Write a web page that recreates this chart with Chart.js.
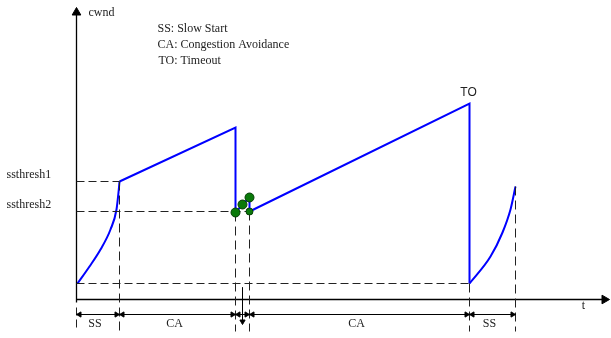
<!DOCTYPE html>
<html>
<head>
<meta charset="utf-8">
<script src="https://cdn.jsdelivr.net/npm/chart.js@4"></script>
<style>
html,body{margin:0;padding:0;background:#fff;}
#wrap{width:611px;height:338px;}
</style>
</head>
<body>
<div id="wrap"><canvas id="c" width="611" height="338"></canvas></div>
<script>
// ---- data (t = time, cwnd = congestion window; arbitrary units) ----
const ssPhase1 = [[1,16],[13,33],[24,50],[34,70],[40,90],[42,107],[43,118]];
const caPhase1 = [[43,118],[159,172],[159,87]];
const recovery = [[159,87],[166,95],[173,102],[173,88]];
const caPhase2 = [[173,88],[393,196],[393,16]];
const ssPhase2 = [[393,16],[414,43],[426,67],[434,90],[439,113]];
const recoveryDots = [[159,87],[166,95],[173,102]];
const recoveryEnd = [[173,88]];

const thresholdLabels = ['ssthresh1','ssthresh2'];
const thresholdValues = [118, 88];
const baselineCwnd = 16;
const phaseBounds = [0, 43, 159, 173, 393, 439];
const phaseLabels = ['SS','CA','','CA','SS'];
const boundTops = [null, 118, 87, 88, 16, 113];
const legendNotes = ['SS: Slow Start','CA: Congestion Avoidance','TO: Timeout'];
const timeoutLabel = 'TO';
const timeoutPoint = [393,196];
const dupAckT = 166;
const axisLabelY = 'cwnd';
const axisLabelX = 't';

// ---- build datasets ----
const P = a => a.map(([x,y]) => ({x, y}));
const BLUE = '#0000ff';
const GRAY = '#222';
const dimY = -15, dashBottom = -32;

const ds = [];
function line(pts, color, width, dash, extra) {
  ds.push(Object.assign({type:'line', data:P(pts), borderColor:color, borderWidth:width,
    borderDash:dash||[], pointRadius:0, fill:false, tension:0, clip:false, order:1}, extra||{}));
}
function marks(pts, style, r, rot, color, extra) {
  ds.push(Object.assign({type:'line', data:P(pts), showLine:false, pointStyle:style, pointRadius:r,
    pointRotation:rot, pointBackgroundColor:color, pointBorderColor:color, pointBorderWidth:1,
    clip:false, order:0}, extra||{}));
}

// dashed guides
line([[0,thresholdValues[0]],[phaseBounds[1],thresholdValues[0]]], GRAY, 1, [8,4]);
line([[0,thresholdValues[1]],[phaseBounds[3],thresholdValues[1]]], GRAY, 1, [8,4]);
line([[0,baselineCwnd],[phaseBounds[4],baselineCwnd]], GRAY, 1, [8,4]);
line([[0,-8],[0,dashBottom]], GRAY, 1, [8,4]);
for (let i = 1; i < phaseBounds.length; i++) {
  line([[phaseBounds[i], boundTops[i]],[phaseBounds[i], dashBottom]], GRAY, 1, [9,5]);
}

// axes
line([[0,-3],[0,286]], '#000', 1.3);
line([[0,0],[526,0]], '#000', 1.3);
marks([[0,287]], 'triangle', 5, 0, '#000');
marks([[528,0]], 'triangle', 5, 90, '#000');

// dimension lines
for (let i = 0; i < phaseBounds.length - 1; i++) {
  const a = phaseBounds[i], b = phaseBounds[i+1];
  line([[a,dimY],[b,dimY]], '#000', 1);
  marks([[a+3,dimY]], 'triangle', 3, 270, '#000');
  marks([[b-3,dimY]], 'triangle', 3, 90, '#000');
}
// duplicate-ack arrow
line([[dupAckT,12],[dupAckT,-22]], '#000', 1);
marks([[dupAckT,-22]], 'triangle', 3, 180, '#000');

// cwnd trace
line(ssPhase1, BLUE, 2, [], {cubicInterpolationMode:'monotone'});
line(caPhase1, BLUE, 2);
line(recovery, BLUE, 2);
line(caPhase2, BLUE, 2);
line(ssPhase2, BLUE, 2, [], {cubicInterpolationMode:'monotone'});
marks(recoveryDots, 'circle', 4.5, 0, '#0a7a0a', {pointBorderColor:'#053d05', pointBorderWidth:1});
marks(recoveryEnd, 'circle', 3.5, 0, '#0a7a0a', {pointBorderColor:'#053d05', pointBorderWidth:1});

// ---- text plugin ----
const textPlugin = {
  id:'texts',
  afterDatasetsDraw(chart) {
    const ctx = chart.ctx, xs = chart.scales.x, ys = chart.scales.y;
    const X = v => xs.getPixelForValue(v), Y = v => ys.getPixelForValue(v);
    ctx.save();
    ctx.fillStyle = '#222';
    ctx.textBaseline = 'middle';
    const serif = '12px "Liberation Serif", "Times New Roman", serif';
    ctx.font = serif;
    ctx.textAlign = 'left';
    ctx.fillText(axisLabelY, X(12), Y(287));
    legendNotes.forEach((s, i) => ctx.fillText(s, X(81) + (i === 2 ? 1 : 0), Y(271 - 16*i)));
    thresholdLabels.forEach((s, i) => ctx.fillText(s, X(-70), Y(thresholdValues[i] + 7)));
    ctx.textAlign = 'center';
    ctx.fillText(axisLabelX, X(507), Y(-6));
    for (let i = 0; i < phaseLabels.length; i++) {
      if (!phaseLabels[i]) continue;
      const m = (phaseBounds[i] + phaseBounds[i+1]) / 2 - 3;
      ctx.fillText(phaseLabels[i], X(m), Y(-24));
    }
    ctx.font = '12px "Liberation Sans", Arial, sans-serif';
    ctx.fillText(timeoutLabel, X(timeoutPoint[0] - 1), Y(timeoutPoint[1] + 11));
    ctx.restore();
  }
};

new Chart(document.getElementById('c'), {
  type:'line',
  data:{datasets:ds},
  options:{
    responsive:false, animation:false,
    layout:{padding:0, autoPadding:false},
    plugins:{legend:{display:false}, tooltip:{enabled:false}, title:{display:false}},
    scales:{
      x:{type:'linear', min:-76.5, max:534.5, display:false},
      y:{type:'linear', min:-38.5, max:299.5, display:false}
    }
  },
  plugins:[textPlugin]
});
</script>
</body>
</html>
